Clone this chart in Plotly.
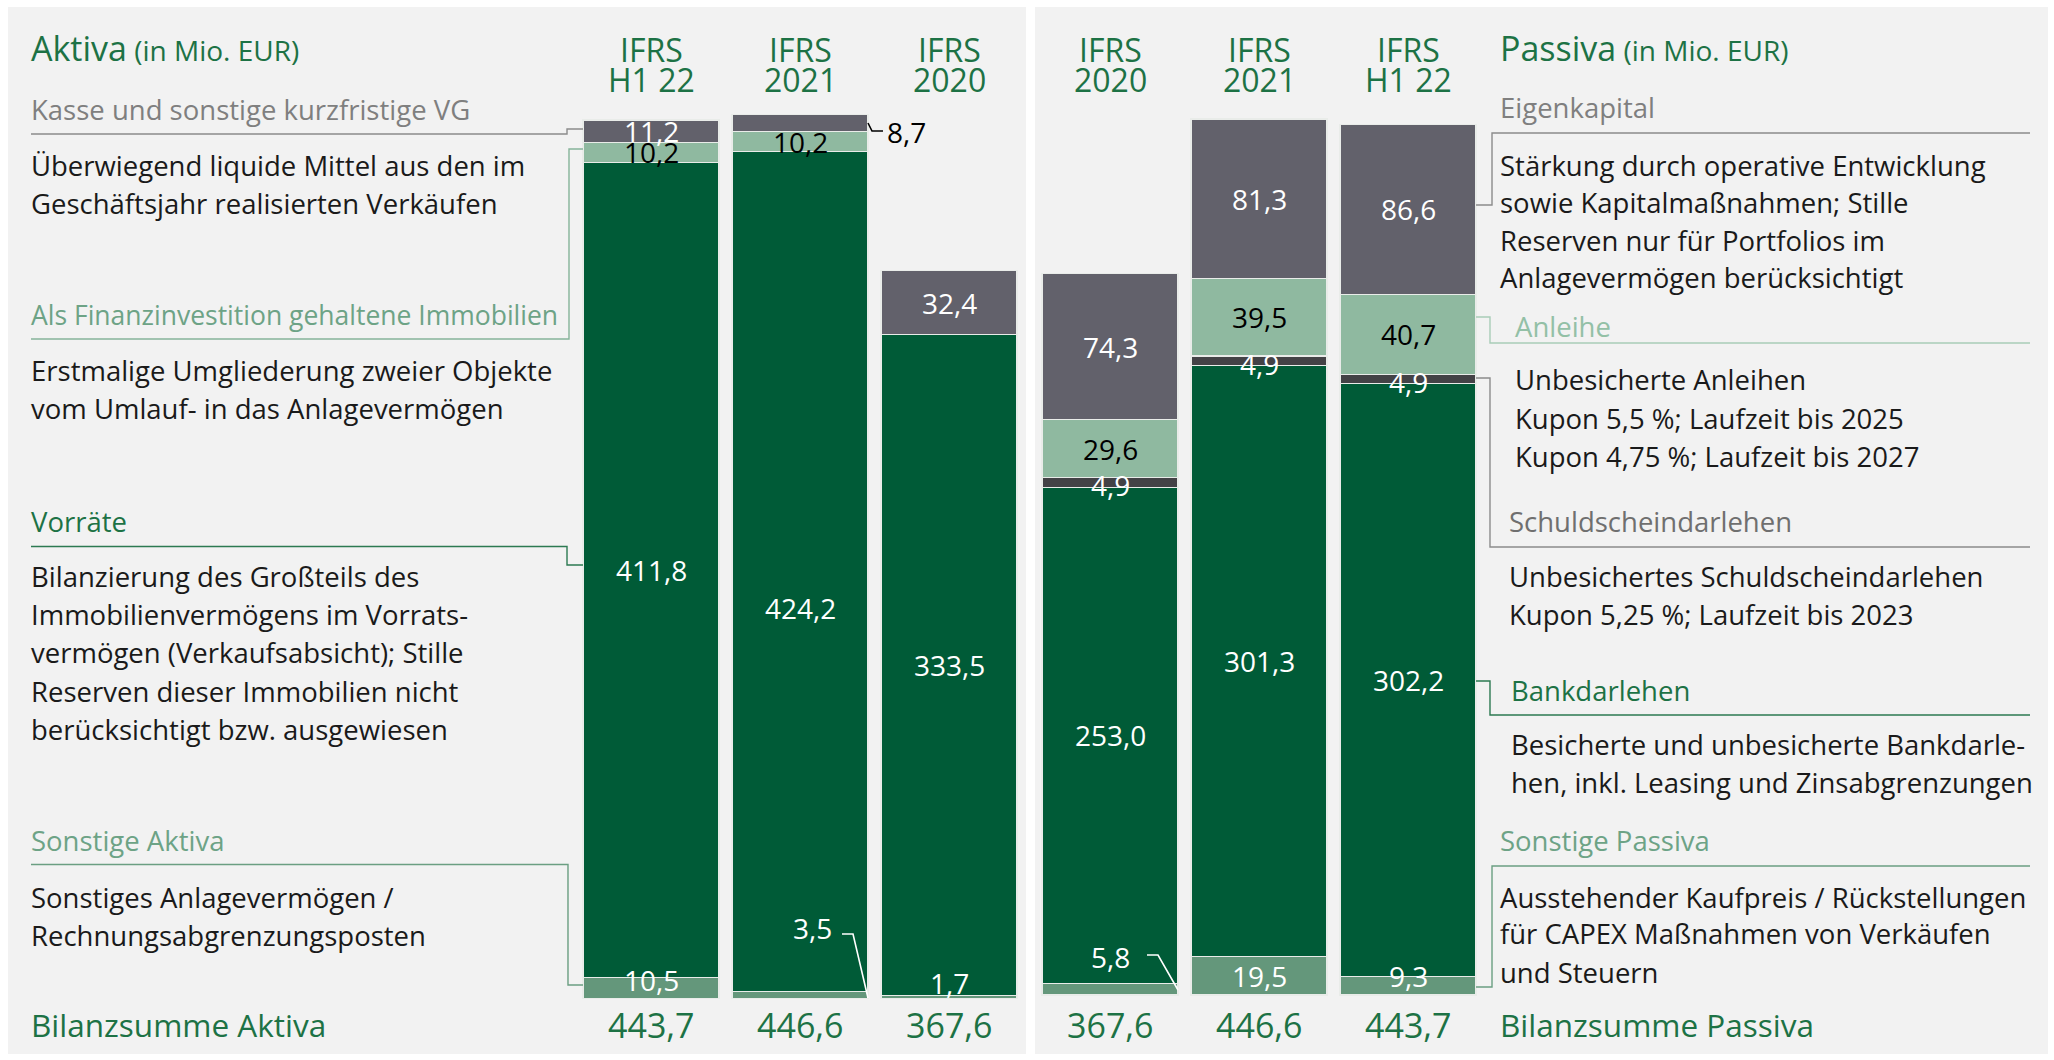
import plotly.graph_objects as go

W, H = 2054, 1060

# ---------------- data ----------------
periods_left = ["H1 22", "2021", "2020"]
periods_right = ["2020", "2021", "H1 22"]

# Aktiva (bottom -> top)
sonstige_aktiva = [10.5, 3.5, 1.7]
vorraete = [411.8, 424.2, 333.5]
finanz_immobilien = [10.2, 10.2, None]
kasse = [11.2, 8.7, 32.4]
totals_left = [443.7, 446.6, 367.6]

# Passiva (bottom -> top)
sonstige_passiva = [5.8, 19.5, 9.3]
bankdarlehen = [253.0, 301.3, 302.2]
schuldschein = [4.9, 4.9, 4.9]
anleihe = [29.6, 39.5, 40.7]
eigenkapital = [74.3, 81.3, 86.6]
totals_right = [367.6, 446.6, 443.7]

# ---------------- style ----------------
FONT = "Open Sans"
DARK = "#005b37"
LIGHT = "#8fb9a0"
MID = "#64977b"
GRAY = "#62616b"
SCHULD = "#434246"
GREEN_TXT = "#1d7245"
LIGHT_TXT = "#6da386"
ANL_TXT = "#93c0a6"
GRAY_TXT = "#7f7f7f"
BODY = "#1a1a1a"
PANEL = "#f2f2f2"
BODY_SIZE = 27.5


def fx(x):
    return x / W


def fy(y):
    return 1 - y / H


def fmt(v):
    return f"{v:.1f}".replace(".", ",")


fig = go.Figure()

left_stack = [
    ("Sonstige Aktiva", sonstige_aktiva, MID, "white"),
    ("Vorräte", vorraete, DARK, "white"),
    ("Finanzinvestition", finanz_immobilien, LIGHT, "black"),
    ("Kasse", kasse, GRAY, "white"),
]
right_stack = [
    ("Sonstige Passiva", sonstige_passiva, MID, "white"),
    ("Bankdarlehen", bankdarlehen, DARK, "white"),
    ("Schuldschein", schuldschein, SCHULD, "white"),
    ("Anleihe", anleihe, LIGHT, "black"),
    ("Eigenkapital", eigenkapital, GRAY, "white"),
]

for name, vals, col, _ in left_stack:
    fig.add_trace(go.Bar(x=periods_left, y=vals, name=name, marker_color=col,
                         marker_line=dict(color="#e9ece9", width=1.2),
                         xaxis="x", yaxis="y", hoverinfo="skip"))
for name, vals, col, _ in right_stack:
    fig.add_trace(go.Bar(x=periods_right, y=vals, name=name, marker_color=col,
                         marker_line=dict(color="#e9ece9", width=1.2),
                         xaxis="x2", yaxis="y2", hoverinfo="skip"))

annotations = []


def seg_labels(stack, periods, xref, yref, special):
    n = len(periods)
    bottoms = [0.0] * n
    for si, (name, vals, col, tcol) in enumerate(stack):
        for i in range(n):
            v = vals[i]
            if v is None:
                continue
            b = bottoms[i]
            sp = special.get((name, periods[i]), {})
            if si == 0:
                y = max(v / 2, 9.5)
            elif name == "Schuldschein":
                y = b
            else:
                y = b + v / 2
            annotations.append(dict(
                x=i, y=y, xref=xref, yref=yref, text=fmt(v), showarrow=False,
                font=dict(family=FONT, size=28, color=sp.get("color", tcol)),
                xanchor="center", yanchor="middle",
                xshift=sp.get("xshift", 0), yshift=sp.get("yshift", 0)))
            bottoms[i] = b + v


seg_labels(left_stack, periods_left, "x", "y", {
    ("Kasse", "2021"): dict(xshift=106, yshift=-9, color="black"),
    ("Vorräte", "2021"): dict(yshift=-36),
    ("Sonstige Aktiva", "2021"): dict(xshift=12, yshift=52),
    ("Sonstige Aktiva", "2020"): dict(yshift=-3),
})
seg_labels(right_stack, periods_right, "x2", "y2", {
    ("Sonstige Passiva", "2020"): dict(yshift=19),
    ("Schuldschein", "2020"): dict(yshift=2),
    ("Schuldschein", "2021"): dict(yshift=2),
    ("Schuldschein", "H1 22"): dict(yshift=2),
})

# column headers and totals
for xref, periods, totals in (("x", periods_left, totals_left), ("x2", periods_right, totals_right)):
    for i, (p, t) in enumerate(zip(periods, totals)):
        annotations.append(dict(x=i, y=fy(49), xref=xref, yref="paper", text="IFRS", showarrow=False,
                                font=dict(family=FONT, size=32, color=GREEN_TXT), yanchor="middle"))
        annotations.append(dict(x=i, y=fy(80), xref=xref, yref="paper", text=p, showarrow=False,
                                font=dict(family=FONT, size=32, color=GREEN_TXT), yanchor="middle"))
        annotations.append(dict(x=i, y=fy(1025), xref=xref, yref="paper", text=fmt(t), showarrow=False,
                                font=dict(family=FONT, size=34, color=GREEN_TXT), yanchor="middle"))


def txt(x, y, s, size=BODY_SIZE, color=BODY):
    annotations.append(dict(x=fx(x), y=fy(y), xref="paper", yref="paper", text=s, showarrow=False,
                            xanchor="left", yanchor="middle",
                            font=dict(family=FONT, size=size, color=color)))


# left side texts
txt(29, 48, "Aktiva<span style='font-size:28px'> (in Mio. EUR)</span>", 34, GREEN_TXT)
txt(29, 110, "Kasse und sonstige kurzfristige VG", 27.5, GRAY_TXT)
txt(29, 165, "Überwiegend liquide Mittel aus den im")
txt(29, 203, "Geschäftsjahr realisierten Verkäufen")
txt(29, 315, "Als Finanzinvestition gehaltene Immobilien", 26.5, LIGHT_TXT)
txt(29, 370, "Erstmalige Umgliederung zweier Objekte")
txt(29, 408, "vom Umlauf- in das Anlagevermögen")
txt(29, 521, "Vorräte", 27.5, GREEN_TXT)
for k, line in enumerate(["Bilanzierung des Großteils des",
                          "Immobilienvermögens im Vorrats-",
                          "vermögen (Verkaufsabsicht); Stille",
                          "Reserven dieser Immobilien nicht",
                          "berücksichtigt bzw. ausgewiesen"]):
    txt(29, 576 + k * 38.4, line)
txt(29, 840, "Sonstige Aktiva", 27.5, LIGHT_TXT)
txt(29, 897, "Sonstiges Anlagevermögen /")
txt(29, 935, "Rechnungsabgrenzungsposten")
txt(29, 1024, "Bilanzsumme Aktiva", 31.5, GREEN_TXT)

# right side texts
txt(1498, 48, "Passiva<span style='font-size:28px'> (in Mio. EUR)</span>", 34, GREEN_TXT)
txt(1498, 108, "Eigenkapital", 27.5, GRAY_TXT)
for k, line in enumerate(["Stärkung durch operative Entwicklung",
                          "sowie Kapitalmaßnahmen; Stille",
                          "Reserven nur für Portfolios im",
                          "Anlagevermögen berücksichtigt"]):
    txt(1498, 165 + k * 37.6, line)
txt(1513, 326, "Anleihe", 27.5, ANL_TXT)
txt(1513, 380, "Unbesicherte Anleihen")
txt(1513, 418, "Kupon 5,5 %; Laufzeit bis 2025")
txt(1513, 456.5, "Kupon 4,75 %; Laufzeit bis 2027")
txt(1507, 521.5, "Schuldscheindarlehen", 27.5, "#6f6f6f")
txt(1507, 576.5, "Unbesichertes Schuldscheindarlehen")
txt(1507, 614, "Kupon 5,25 %; Laufzeit bis 2023")
txt(1509, 690, "Bankdarlehen", 27.5, GREEN_TXT)
txt(1509, 744, "Besicherte und unbesicherte Bankdarle-")
txt(1509, 782, "hen, inkl. Leasing und Zinsabgrenzungen")
txt(1498, 840, "Sonstige Passiva", 27.5, LIGHT_TXT)
txt(1498, 897, "Ausstehender Kaufpreis / Rückstellungen")
txt(1498, 933.5, "für CAPEX Maßnahmen von Verkäufen")
txt(1498, 972, "und Steuern")
txt(1498, 1024, "Bilanzsumme Passiva", 31.5, GREEN_TXT)

shapes = []
# panels
shapes.append(dict(type="rect", xref="paper", yref="paper", x0=fx(8), x1=fx(1026), y0=fy(1054), y1=fy(7),
                   fillcolor=PANEL, line_width=0, layer="below"))
shapes.append(dict(type="rect", xref="paper", yref="paper", x0=fx(1035), x1=fx(2048), y0=fy(1054), y1=fy(7),
                   fillcolor=PANEL, line_width=0, layer="below"))


def path(points, color, width=1.4):
    d = "M" + " L".join(f"{fx(x):.5f},{fy(y):.5f}" for x, y in points)
    shapes.append(dict(type="path", xref="paper", yref="paper", path=d,
                       line=dict(color=color, width=width), layer="above"))


# left connectors
path([(31, 134), (567, 134), (567, 129), (583, 129)], "#8c8c8c")
path([(31, 339), (569, 339), (569, 149), (583, 149)], "#86b49a")
path([(31, 546.5), (567, 546.5), (567, 565), (583, 565)], "#2d7a52")
path([(31, 864.5), (568, 864.5), (568, 985), (583, 985)], "#6b9f82")
# right connectors
path([(2030, 133), (1492, 133), (1492, 205), (1476, 205)], "#8c8c8c")
path([(1476, 317), (1490, 317), (1490, 343), (2030, 343)], "#a9cdb8")
path([(1476, 378), (1490, 378), (1490, 547), (2030, 547)], "#8c8c8c")
path([(1476, 681), (1490, 681), (1490, 715), (2030, 715)], "#2d7a52")
path([(1476, 987), (1492, 987), (1492, 866), (2030, 866)], "#6b9f82")
# leader lines for small labels
path([(868, 123), (872, 131), (883, 131)], "black", 1.6)
path([(842, 934), (853, 934), (868, 998)], "white", 1.6)
path([(1147, 955), (1158, 955), (1178, 990)], "white", 1.6)

fig.update_layout(
    width=W, height=H, margin=dict(l=0, r=0, t=0, b=0),
    paper_bgcolor="white", plot_bgcolor="rgba(0,0,0,0)",
    barmode="stack", bargap=0.087, showlegend=False,
    xaxis=dict(domain=[576.5 / W, 1023.5 / W], type="category", categoryorder="array",
               categoryarray=periods_left, range=[-0.5, 2.5], visible=False, anchor="y"),
    xaxis2=dict(domain=[1035.5 / W, 1482.5 / W], type="category", categoryorder="array",
                categoryarray=periods_right, range=[-0.5, 2.5], visible=False, anchor="y2"),
    yaxis=dict(domain=[0, 1], range=[-(H - 998.5) / 1.98, 998.5 / 1.98], visible=False, anchor="x"),
    yaxis2=dict(domain=[0, 1], range=[-(H - 995) / 1.962, 995 / 1.962], visible=False, anchor="x2"),
    annotations=annotations, shapes=shapes,
    font=dict(family=FONT),
)

fig.write_html("out.html", config={"displayModeBar": False},
               post_script="document.body.style.margin='0px';document.body.style.overflow='hidden';")
